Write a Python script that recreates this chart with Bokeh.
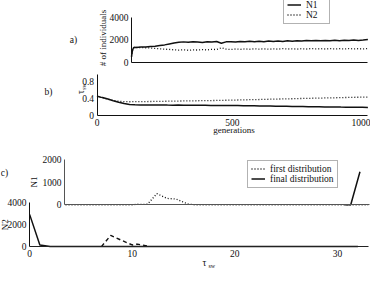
import math
from bokeh.plotting import figure
from bokeh.models import Range1d, LinearAxis, FixedTicker, Label, Legend, LegendItem
from bokeh.embed import file_html
from bokeh.resources import INLINE

# ---------------- data ----------------
gen = [0, 4, 8, 12, 20, 40, 60, 80, 100, 120, 140, 160, 180, 200, 220, 240, 260, 280,
       300, 320, 340, 360, 380, 400, 420, 440, 460, 480, 500, 520, 540, 560, 580, 600,
       620, 640, 660, 680, 700, 720, 740, 760, 780, 800, 820, 840, 860, 880, 900, 920,
       940, 960, 980, 1000]
n1_count = [500, 1050, 1280, 1340, 1330, 1360, 1370, 1420, 1440, 1500, 1560, 1640, 1720,
            1790, 1830, 1790, 1850, 1820, 1780, 1840, 1810, 1860, 1700, 1830, 1850, 1810,
            1870, 1840, 1880, 1850, 1890, 1850, 1900, 1870, 1910, 1870, 1920, 1890, 1940,
            1900, 1950, 1920, 1960, 1920, 1960, 1940, 1980, 1940, 1970, 1950, 1990, 1960,
            1990, 2040]
n2_count = [500, 1050, 1280, 1340, 1330, 1320, 1300, 1280, 1240, 1210, 1180, 1150, 1120,
            1090, 1120, 1080, 1110, 1100, 1140, 1110, 1160, 1140, 1300, 1180, 1150, 1190,
            1160, 1200, 1170, 1210, 1180, 1200, 1170, 1210, 1180, 1220, 1190, 1210, 1180,
            1220, 1190, 1230, 1200, 1220, 1190, 1230, 1200, 1220, 1190, 1230, 1200, 1220,
            1200, 1240]
tau_n1 = [0.45, 0.445, 0.44, 0.43, 0.42, 0.385, 0.345, 0.31, 0.28, 0.26, 0.25, 0.248,
          0.246, 0.245, 0.244, 0.246, 0.243, 0.242, 0.243, 0.241, 0.24, 0.241, 0.238,
          0.238, 0.236, 0.236, 0.234, 0.233, 0.232, 0.231, 0.228, 0.227, 0.226, 0.224,
          0.222, 0.221, 0.218, 0.216, 0.215, 0.212, 0.21, 0.209, 0.206, 0.204, 0.203,
          0.2, 0.199, 0.198, 0.196, 0.195, 0.193, 0.192, 0.191, 0.19]
tau_n2 = [0.45, 0.445, 0.44, 0.43, 0.415, 0.38, 0.35, 0.335, 0.325, 0.322, 0.323, 0.324,
          0.326, 0.328, 0.331, 0.332, 0.334, 0.337, 0.338, 0.34, 0.343, 0.344, 0.346,
          0.349, 0.35, 0.352, 0.355, 0.357, 0.36, 0.363, 0.365, 0.369, 0.372, 0.374,
          0.378, 0.381, 0.383, 0.387, 0.39, 0.392, 0.396, 0.399, 0.401, 0.405, 0.407,
          0.41, 0.413, 0.415, 0.419, 0.421, 0.425, 0.427, 0.428, 0.43]

n1_first_tau = [3.5, 10.0, 10.5, 11.0, 11.5, 12.4, 13.4, 14.3, 15.4, 16.1, 33.0]
n1_first = [0, 0, 25, 15, 30, 490, 280, 250, 40, 0, 0]
n1_final_tau = [30.7, 31.3, 32.2]
n1_final = [0, 0, 1450]
n2_first_tau = [7.0, 7.9, 9.0, 10.0, 10.5, 11.3, 11.7]
n2_first = [0, 1020, 560, 150, 230, 90, 0]
n2_final_tau = [0.0, 1.0, 1.5, 2.0, 32.0]
n2_final = [2950, 150, 80, 0, 0]

ticks_a_y = [0, 2000, 4000]
ticks_b_x = [0, 500, 1000]
ticks_b_y = [0, 0.4, 0.8]
ticks_c1_y = [0, 1000, 2000]
ticks_c2_y = [0, 2000, 4000]
ticks_c_x = [0, 10, 20, 30]

# ---------------- layout helpers ----------------
W, H = 370, 268
FONT = "'Liberation Serif', 'Times New Roman', serif"
INK = "#111111"


def xrange_from(v0, p0, v1, p1):
    s = (v1 - v0) / (p1 - p0)
    return Range1d(v0 - p0 * s, v0 + (W - p0) * s)


def yrange_from(v0, p0, v1, p1):
    # p measured top-down on the canvas
    s = (v1 - v0) / (p1 - p0)
    return Range1d(v0 + (H - p0) * s, v0 - p0 * s)


p = figure(width=W, height=H, output_backend="svg", toolbar_location=None,
           x_range=Range1d(0, W), y_range=Range1d(H, 0),
           x_axis_type=None, y_axis_type=None, min_border=0,
           outline_line_color=None)
p.background_fill_color = "white"
p.border_fill_color = "white"

p.extra_x_ranges = {
    "ax": xrange_from(0, 131.0, 1000, 367.4),
    "bx": xrange_from(0, 96.5, 1000, 367.4),
    "cx": xrange_from(0, 29.1, 30, 336.9),
}
p.extra_y_ranges = {
    "ay": yrange_from(0, 61.8, 4000, 17.15),
    "by": yrange_from(0, 115, 0.4, 97.9),
    "c1y": yrange_from(0, 204.3, 2000, 158.7),
    "c2y": yrange_from(0, 246.1, 4000, 202.4),
}


def add_axis(place, xr, yr, loc, bounds, ticks, color=INK):
    ax = LinearAxis(x_range_name=xr, y_range_name=yr, fixed_location=loc,
                    bounds=bounds, ticker=FixedTicker(ticks=ticks, minor_ticks=[]),
                    axis_line_color=color, axis_line_width=1,
                    major_tick_line_color=None, minor_tick_line_color=None,
                    major_tick_out=0, major_tick_in=0,
                    major_label_text_font=FONT, major_label_text_font_size="9.5px",
                    major_label_text_color=INK, major_label_standoff=3)
    p.add_layout(ax, place)
    return ax


# panel a
add_axis("left", "ax", "ay", 0, (0, 4000), ticks_a_y)
add_axis("below", "ax", "ay", 0, (0, 1000), [])
ra1 = p.line(gen, n1_count, x_range_name="ax", y_range_name="ay",
             line_color=INK, line_width=1.5)
ra2 = p.line(gen, n2_count, x_range_name="ax", y_range_name="ay",
             line_color=INK, line_width=1.3, line_dash="1 2")

# panel b
add_axis("left", "bx", "by", 0, (0, 0.95), ticks_b_y)
add_axis("below", "bx", "by", 0, (0, 1000), ticks_b_x)
p.line(gen, tau_n1, x_range_name="bx", y_range_name="by",
       line_color=INK, line_width=1.5)
p.line(gen, tau_n2, x_range_name="bx", y_range_name="by",
       line_color=INK, line_width=1.3, line_dash="1 2")

# panel c (top: N1)
add_axis("left", "cx", "c1y", 3.4, (0, 2000), ticks_c1_y, "#555555")
add_axis("below", "cx", "c1y", 0, (3.4, 33.1), [], "#555555")
rc1 = p.line(n1_first_tau, n1_first, x_range_name="cx", y_range_name="c1y",
             line_color=INK, line_width=1.3, line_dash="1 2")
rc2 = p.line(n1_final_tau, n1_final, x_range_name="cx", y_range_name="c1y",
             line_color=INK, line_width=1.5)

# panel c (bottom: N2)
add_axis("left", "cx", "c2y", 0, (0, 4000), ticks_c2_y)
add_axis("below", "cx", "c2y", 0, (0, 33), ticks_c_x, "#222222")
p.line(n2_first_tau, n2_first, x_range_name="cx", y_range_name="c2y",
       line_color=INK, line_width=1.4, line_dash="4 3")
p.line(n2_final_tau, n2_final, x_range_name="cx", y_range_name="c2y",
       line_color=INK, line_width=1.5)


def add_legend(items, left, bottom_cy):
    leg = Legend(items=items, location=(left, H - bottom_cy),
                 label_text_font=FONT, label_text_font_size="9.5px",
                 label_text_color=INK, glyph_width=14, glyph_height=9,
                 label_height=9, padding=3, spacing=0, margin=0,
                 label_standoff=5, border_line_color="#666666",
                 border_line_width=1, background_fill_color="white",
                 background_fill_alpha=1.0)
    p.add_layout(leg)


add_legend([LegendItem(label="N1", renderers=[ra1]),
            LegendItem(label="N2", renderers=[ra2])], 283, 23.5)
add_legend([LegendItem(label="first distribution", renderers=[rc1]),
            LegendItem(label="final distribution", renderers=[rc2])], 247, 187.5)


def text(x, y, s, size="9.5px", angle=0.0, align="center"):
    p.add_layout(Label(x=x, y=y, text=s, angle=angle, text_align=align,
                       text_baseline="middle", text_font=FONT,
                       text_font_size=size, text_color=INK))


UP = math.pi / 2
text(73, 39, "a)")
text(102.5, 37.5, "# of individuals", "9px", UP)
text(48, 91.3, "b)")
text(80, 91.5, "τ", "9.5px", UP)
text(83.5, 86, "sw", "6px", UP)
text(233.5, 129.3, "generations", "9px")
text(4, 172, "c)")
text(33.5, 181.5, "N1", "9px", UP)
text(4.5, 224.3, "N2", "9px", UP)
text(204, 262, "τ", "9.5px")
text(208, 265, "sw", "6px", 0.0, "left")

html = file_html(p, INLINE)
open("out.html", "w").write(html)
